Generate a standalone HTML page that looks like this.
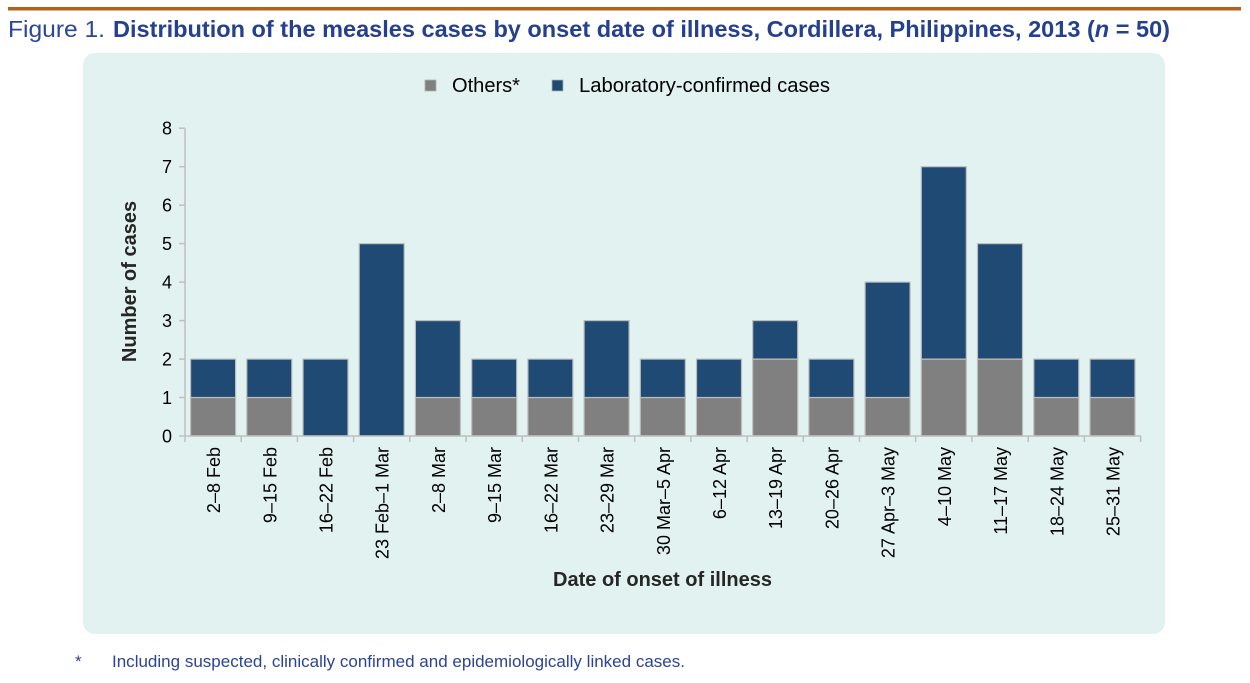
<!DOCTYPE html>
<html>
<head>
<meta charset="utf-8">
<style>
  html,body{margin:0;padding:0;background:#ffffff;}
  body{width:1250px;height:683px;overflow:hidden;}
  svg{display:block;}
  text{font-family:"Liberation Sans", Arial, sans-serif;}
</style>
</head>
<body>
<svg width="1250" height="683" viewBox="0 0 1250 683" xmlns="http://www.w3.org/2000/svg">
  <!-- top rule -->
  <rect x="8" y="7" width="1233" height="3.5" fill="#b4621b"/>
  <!-- title -->
  <text x="8" y="37" font-size="23" fill="#2a4799" textLength="97" lengthAdjust="spacingAndGlyphs">Figure 1.</text>
  <text x="113" y="37" font-size="23" font-weight="bold" fill="#24408e" textLength="1057" lengthAdjust="spacingAndGlyphs">Distribution of the measles cases by onset date of illness, Cordillera, Philippines, 2013 (<tspan font-style="italic">n</tspan> = 50)</text>

  <!-- panel -->
  <rect x="83" y="53" width="1082" height="581" rx="12" ry="12" fill="#e2f2f1"/>

  <!-- legend -->
  <rect x="425" y="80" width="11" height="11" fill="#808080" stroke="#b0b0b0" stroke-width="0.8"/>
  <text x="452" y="92" font-size="20" fill="#000" textLength="68" lengthAdjust="spacingAndGlyphs">Others*</text>
  <rect x="552" y="80" width="11" height="11" fill="#1f4a73" stroke="#b0b0b0" stroke-width="0.8"/>
  <text x="579" y="92" font-size="20" fill="#000" textLength="251" lengthAdjust="spacingAndGlyphs">Laboratory-confirmed cases</text>

  <!-- y axis title -->
  <text transform="translate(136,281.5) rotate(-90)" text-anchor="middle" font-size="20" font-weight="bold" fill="#262626">Number of cases</text>

  <!-- y tick labels -->
  <g font-size="18" fill="#000" text-anchor="end">
    <text x="172" y="442.5">0</text>
    <text x="172" y="404">1</text>
    <text x="172" y="365.6">2</text>
    <text x="172" y="327.1">3</text>
    <text x="172" y="288.6">4</text>
    <text x="172" y="250.1">5</text>
    <text x="172" y="211.7">6</text>
    <text x="172" y="173.2">7</text>
    <text x="172" y="134.7">8</text>
  </g>

  <!-- bars -->
  <g stroke="#bdbdbd" stroke-width="1.2">
    <!-- 0 -->
    <rect x="190.6" y="397.5" width="45" height="38.5" fill="#808080"/>
    <rect x="190.6" y="359.1" width="45" height="38.4" fill="#1f4a73"/>
    <!-- 1 -->
    <rect x="246.8" y="397.5" width="45" height="38.5" fill="#808080"/>
    <rect x="246.8" y="359.1" width="45" height="38.4" fill="#1f4a73"/>
    <!-- 2 -->
    <rect x="303.0" y="359.1" width="45" height="76.9" fill="#1f4a73"/>
    <!-- 3 -->
    <rect x="359.2" y="243.65" width="45" height="192.35" fill="#1f4a73"/>
    <!-- 4 -->
    <rect x="415.4" y="397.5" width="45" height="38.5" fill="#808080"/>
    <rect x="415.4" y="320.6" width="45" height="76.9" fill="#1f4a73"/>
    <!-- 5 -->
    <rect x="471.7" y="397.5" width="45" height="38.5" fill="#808080"/>
    <rect x="471.7" y="359.1" width="45" height="38.4" fill="#1f4a73"/>
    <!-- 6 -->
    <rect x="527.9" y="397.5" width="45" height="38.5" fill="#808080"/>
    <rect x="527.9" y="359.1" width="45" height="38.4" fill="#1f4a73"/>
    <!-- 7 -->
    <rect x="584.1" y="397.5" width="45" height="38.5" fill="#808080"/>
    <rect x="584.1" y="320.6" width="45" height="76.9" fill="#1f4a73"/>
    <!-- 8 -->
    <rect x="640.3" y="397.5" width="45" height="38.5" fill="#808080"/>
    <rect x="640.3" y="359.1" width="45" height="38.4" fill="#1f4a73"/>
    <!-- 9 -->
    <rect x="696.5" y="397.5" width="45" height="38.5" fill="#808080"/>
    <rect x="696.5" y="359.1" width="45" height="38.4" fill="#1f4a73"/>
    <!-- 10 -->
    <rect x="752.7" y="359.1" width="45" height="76.9" fill="#808080"/>
    <rect x="752.7" y="320.6" width="45" height="38.5" fill="#1f4a73"/>
    <!-- 11 -->
    <rect x="808.9" y="397.5" width="45" height="38.5" fill="#808080"/>
    <rect x="808.9" y="359.1" width="45" height="38.4" fill="#1f4a73"/>
    <!-- 12 -->
    <rect x="865.1" y="397.5" width="45" height="38.5" fill="#808080"/>
    <rect x="865.1" y="282.1" width="45" height="115.4" fill="#1f4a73"/>
    <!-- 13 -->
    <rect x="921.3" y="359.1" width="45" height="76.9" fill="#808080"/>
    <rect x="921.3" y="166.7" width="45" height="192.4" fill="#1f4a73"/>
    <!-- 14 -->
    <rect x="977.5" y="359.1" width="45" height="76.9" fill="#808080"/>
    <rect x="977.5" y="243.65" width="45" height="115.45" fill="#1f4a73"/>
    <!-- 15 -->
    <rect x="1033.8" y="397.5" width="45" height="38.5" fill="#808080"/>
    <rect x="1033.8" y="359.1" width="45" height="38.4" fill="#1f4a73"/>
    <!-- 16 -->
    <rect x="1090.0" y="397.5" width="45" height="38.5" fill="#808080"/>
    <rect x="1090.0" y="359.1" width="45" height="38.4" fill="#1f4a73"/>
  </g>

  <!-- axes -->
  <g stroke="#bfbfbf" stroke-width="1.5" fill="none">
    <line x1="185" y1="128.2" x2="185" y2="436"/>
    <line x1="185" y1="436" x2="1141" y2="436"/>
    <!-- y ticks -->
    <line x1="179" y1="436" x2="185" y2="436"/>
    <line x1="179" y1="397.5" x2="185" y2="397.5"/>
    <line x1="179" y1="359.1" x2="185" y2="359.1"/>
    <line x1="179" y1="320.6" x2="185" y2="320.6"/>
    <line x1="179" y1="282.1" x2="185" y2="282.1"/>
    <line x1="179" y1="243.6" x2="185" y2="243.6"/>
    <line x1="179" y1="205.2" x2="185" y2="205.2"/>
    <line x1="179" y1="166.7" x2="185" y2="166.7"/>
    <line x1="179" y1="128.2" x2="185" y2="128.2"/>
    <!-- x ticks -->
    <line x1="185" y1="436" x2="185" y2="442"/>
    <line x1="241.2" y1="436" x2="241.2" y2="442"/>
    <line x1="297.4" y1="436" x2="297.4" y2="442"/>
    <line x1="353.6" y1="436" x2="353.6" y2="442"/>
    <line x1="409.8" y1="436" x2="409.8" y2="442"/>
    <line x1="466.1" y1="436" x2="466.1" y2="442"/>
    <line x1="522.3" y1="436" x2="522.3" y2="442"/>
    <line x1="578.5" y1="436" x2="578.5" y2="442"/>
    <line x1="634.7" y1="436" x2="634.7" y2="442"/>
    <line x1="690.9" y1="436" x2="690.9" y2="442"/>
    <line x1="747.1" y1="436" x2="747.1" y2="442"/>
    <line x1="803.3" y1="436" x2="803.3" y2="442"/>
    <line x1="859.5" y1="436" x2="859.5" y2="442"/>
    <line x1="915.7" y1="436" x2="915.7" y2="442"/>
    <line x1="971.9" y1="436" x2="971.9" y2="442"/>
    <line x1="1028.2" y1="436" x2="1028.2" y2="442"/>
    <line x1="1084.4" y1="436" x2="1084.4" y2="442"/>
    <line x1="1140.6" y1="436" x2="1140.6" y2="442"/>
  </g>

  <!-- x labels -->
  <g font-size="18" fill="#000" text-anchor="end">
    <text transform="translate(220.1,447) rotate(-90)">2–8 Feb</text>
    <text transform="translate(276.3,447) rotate(-90)">9–15 Feb</text>
    <text transform="translate(332.5,447) rotate(-90)">16–22 Feb</text>
    <text transform="translate(388.7,447) rotate(-90)">23 Feb–1 Mar</text>
    <text transform="translate(444.9,447) rotate(-90)">2–8 Mar</text>
    <text transform="translate(501.2,447) rotate(-90)">9–15 Mar</text>
    <text transform="translate(557.4,447) rotate(-90)">16–22 Mar</text>
    <text transform="translate(613.6,447) rotate(-90)">23–29 Mar</text>
    <text transform="translate(669.8,447) rotate(-90)">30 Mar–5 Apr</text>
    <text transform="translate(726.0,447) rotate(-90)">6–12 Apr</text>
    <text transform="translate(782.2,447) rotate(-90)">13–19 Apr</text>
    <text transform="translate(838.4,447) rotate(-90)">20–26 Apr</text>
    <text transform="translate(894.6,447) rotate(-90)">27 Apr–3 May</text>
    <text transform="translate(950.8,447) rotate(-90)">4–10 May</text>
    <text transform="translate(1007.0,447) rotate(-90)">11–17 May</text>
    <text transform="translate(1063.3,447) rotate(-90)">18–24 May</text>
    <text transform="translate(1119.5,447) rotate(-90)">25–31 May</text>
  </g>

  <!-- x axis title -->
  <text x="662.5" y="586" text-anchor="middle" font-size="20" font-weight="bold" fill="#262626">Date of onset of illness</text>

  <!-- footnote -->
  <text x="75" y="667" font-size="17" fill="#2b4496">*</text>
  <text x="112" y="667" font-size="17" fill="#2b4496" textLength="573" lengthAdjust="spacingAndGlyphs">Including suspected, clinically confirmed and epidemiologically linked cases.</text>
</svg>
</body>
</html>
